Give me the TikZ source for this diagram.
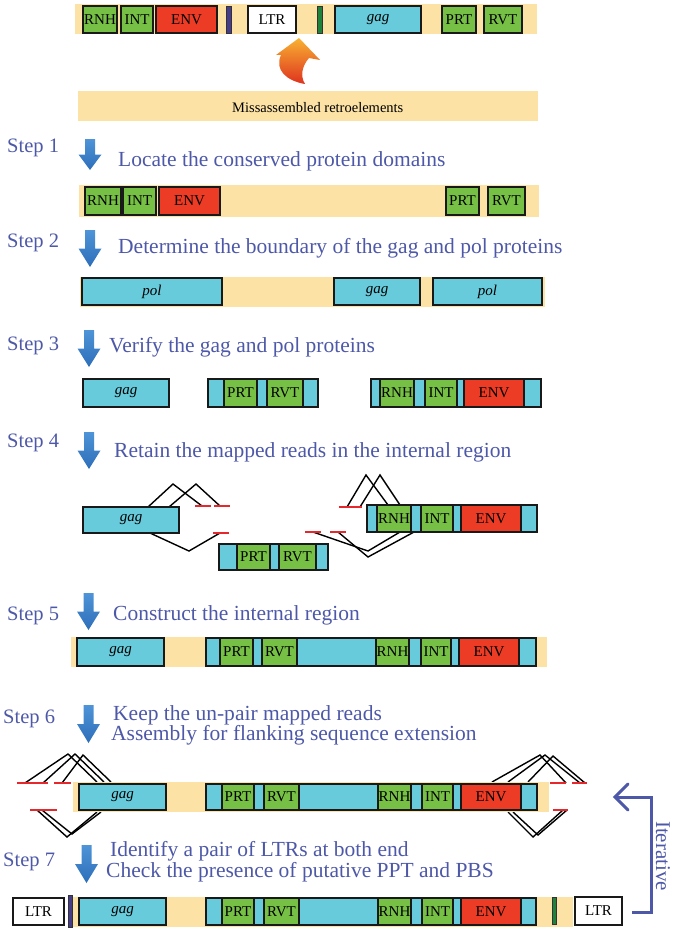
\documentclass[tikz,border=0pt]{standalone}
\usepackage{fontspec}
\setmainfont{Liberation Serif}
\definecolor{ylw}{RGB}{252,226,165}
\definecolor{cyn}{RGB}{104,203,219}
\definecolor{grn}{RGB}{119,192,70}
\definecolor{envred}{RGB}{236,60,38}
\definecolor{txtblue}{RGB}{77,88,168}
\definecolor{arrtop}{RGB}{78,148,215}
\definecolor{arrbot}{RGB}{45,110,185}
\definecolor{readred}{RGB}{230,40,45}
\definecolor{ltrpurple}{RGB}{70,60,140}
\definecolor{ltrgreen}{RGB}{30,130,60}
\definecolor{curvtop}{RGB}{248,178,50}
\definecolor{curvbot}{RGB}{222,50,30}
\newcommand\bx[7]{\node[#1,minimum width={(#4-#3)*1pt},minimum height={(#6-#5)*1pt},anchor=north west] (#2) at (#3,#5) {#7};}
\newcommand\stepArrow[3]{%
  \shade[top color=arrtop,bottom color=arrbot]
   ({#1-5},#2) -- ({#1+5},#2) -- ({#1+5},{#2+(#3-#2)*0.5}) -- ({#1+11.5},{#2+(#3-#2)*0.5})
   -- (#1,#3) -- ({#1-11.5},{#2+(#3-#2)*0.5}) -- ({#1-5},{#2+(#3-#2)*0.5}) -- cycle;}
\begin{document}
\begin{tikzpicture}[x=1pt,y=-1pt,
  ybar/.style={fill=ylw,draw=none,inner sep=0pt,outer sep=0pt},
  box/.style={draw=black!90,line width=1.8pt,inner sep=0pt,outer sep=0pt,font=\fontsize{15}{15}\selectfont},
  cy/.style={box,fill=cyn},
  gr/.style={box,fill=grn},
  rd/.style={box,fill=envred},
  wt/.style={box,fill=white},
  thinp/.style={draw=black!80,line width=0.8pt,fill=ltrpurple,inner sep=0pt,outer sep=0pt},
  thing/.style={draw=black!80,line width=0.8pt,fill=ltrgreen,inner sep=0pt,outer sep=0pt},
  steplbl/.style={anchor=base west,inner sep=0pt,text=txtblue,font=\fontsize{20.5}{22}\selectfont},
  steptxt/.style={anchor=base west,inner sep=0pt,text=txtblue,font=\fontsize{21.5}{24}\selectfont},
  rread/.style={draw=readred,line width=1.8pt},
  bread/.style={draw=black,line width=1.4pt,line join=miter}
]
\useasboundingbox (0,0) rectangle (675,931);

% ---------- top: missassembled ----------
\bx{ybar}{t-bar}{75}{537}{4}{34}{}
\bx{gr}{t-rnh}{83}{117}{6}{33}{RNH}
\bx{gr}{t-int}{121}{153}{6}{33}{INT}
\bx{rd}{t-env}{156}{217}{6}{33}{ENV}
\bx{thinp}{t-ppt}{226}{231}{6}{33}{}
\bx{wt}{t-ltr}{248}{296}{6}{33}{LTR}
\bx{thing}{t-pbs}{317}{322}{6}{33}{}
\bx{cy}{t-gag}{335}{421}{6}{33}{\textit{gag}}
\bx{gr}{t-prt}{442}{476}{6}{33}{PRT}
\bx{gr}{t-rvt}{484}{522}{6}{33}{RVT}
\shade[top color=curvtop,bottom color=curvbot]
  (305,84) .. controls (287,81) and (274,70) .. (281,55) -- (276,55) -- (299,38)
  -- (320,60) -- (309,58) .. controls (302,66) and (300,76) .. (305,84) -- cycle;
\bx{ybar}{miss}{78}{538}{91}{121}{}
\node[anchor=base west,inner sep=0pt,font=\fontsize{14.5}{16}\selectfont] (misslbl) at (232,113) {Missassembled retroelements};

% ---------- step 1 ----------
\node[steplbl] (s1) at (7,152) {Step 1};
\stepArrow{90}{139}{170}
\node[steptxt] (s1t) at (118,166) {Locate the conserved protein domains};
\bx{ybar}{s1-bar}{79}{539}{185}{217}{}
\bx{gr}{s1-rnh}{85}{121}{187}{215}{RNH}
\bx{gr}{s1-int}{123}{156}{187}{215}{INT}
\bx{rd}{s1-env}{159}{220}{187}{215}{ENV}
\bx{gr}{s1-prt}{446}{479}{187}{215}{PRT}
\bx{gr}{s1-rvt}{488}{525}{187}{215}{RVT}

% ---------- step 2 ----------
\node[steplbl] (s2) at (7,247) {Step 2};
\stepArrow{90}{230}{267}
\node[steptxt] (s2t) at (118,253) {Determine the boundary of the gag and pol proteins};
\bx{ybar}{s2-bar}{80}{545}{277}{307}{}
\bx{cy}{s2-pol1}{82}{222}{278}{305}{\textit{pol}}
\bx{cy}{s2-gag}{334}{420}{278}{305}{\textit{gag}}
\bx{cy}{s2-pol2}{433}{542}{278}{305}{\textit{pol}}

% ---------- step 3 ----------
\node[steplbl] (s3) at (7,350) {Step 3};
\stepArrow{89}{330}{367}
\node[steptxt] (s3t) at (109,352) {Verify the gag and pol proteins};
\bx{cy}{s3-gag}{83}{169}{379}{407}{\textit{gag}}
\bx{cy}{s3-g2}{208}{318}{379}{407}{}
\bx{gr}{s3-prt}{224}{257}{379}{407}{PRT}
\bx{gr}{s3-rvt}{267}{303}{379}{407}{RVT}
\bx{cy}{s3-g3}{371}{541}{379}{407}{}
\bx{gr}{s3-rnh}{380}{414}{379}{407}{RNH}
\bx{gr}{s3-int}{425}{457}{379}{407}{INT}
\bx{rd}{s3-env}{464}{524}{379}{407}{ENV}

% ---------- step 4 ----------
\node[steplbl] (s4) at (7,447) {Step 4};
\stepArrow{89}{432}{469}
\node[steptxt] (s4t) at (114,457) {Retain the mapped reads in the internal region};
\draw[bread] (148,507) -- (173,484) -- (202,506);
\draw[bread] (169,507) -- (196,484) -- (220,506);
\draw[bread] (150,533) -- (189,551) -- (220,533);
\draw[bread] (347,507) -- (366,475) -- (388,505);
\draw[bread] (360,507) -- (380,475) -- (400,505);
\draw[bread] (313,532) -- (368,551) -- (400,532);
\draw[bread] (338,532) -- (368,557) -- (414,532);
\draw[rread] (195,506) -- (211,506);
\draw[rread] (214,506) -- (230,506);
\draw[rread] (213,533) -- (229,533);
\draw[rread] (339,507) -- (362,507);
\draw[rread] (305,532) -- (321,532);
\draw[rread] (330,532) -- (346,532);
\bx{cy}{s4-gag}{83}{179}{507}{533}{\textit{gag}}
\bx{cy}{s4-g3}{367}{537}{505}{532}{}
\bx{gr}{s4-rnh}{377}{411}{505}{532}{RNH}
\bx{gr}{s4-int}{421}{453}{505}{532}{INT}
\bx{rd}{s4-env}{461}{521}{505}{532}{ENV}
\bx{cy}{s4-g2}{219}{328}{544}{570}{}
\bx{gr}{s4-prt}{237}{270}{544}{570}{PRT}
\bx{gr}{s4-rvt}{279}{316}{544}{570}{RVT}

% ---------- step 5 ----------
\node[steplbl] (s5) at (7,620) {Step 5};
\stepArrow{88.5}{593}{630}
\node[steptxt] (s5t) at (113,620) {Construct the internal region};
\bx{ybar}{s5-bar}{71}{547}{637}{667}{}
\bx{cy}{s5-gag}{77}{164}{638}{666}{\textit{gag}}
\bx{cy}{s5-grp}{206}{536}{638}{666}{}
\bx{gr}{s5-prt}{220}{253}{638}{666}{PRT}
\bx{gr}{s5-rvt}{262}{297}{638}{666}{RVT}
\bx{gr}{s5-rnh}{376}{409}{638}{666}{RNH}
\bx{gr}{s5-int}{421}{451}{638}{666}{INT}
\bx{rd}{s5-env}{459}{519}{638}{666}{ENV}

% ---------- step 6 ----------
\node[steplbl] (s6) at (3,723) {Step 6};
\stepArrow{88.5}{705}{743}
\node[steptxt] (s6t1) at (113,720) {Keep the un-pair mapped reads};
\node[steptxt] (s6t2) at (111,740.5) {Assembly for flanking sequence extension};
\draw[bread] (25,783) -- (68,754) -- (97,782);
\draw[bread] (43,783) -- (75,754) -- (104,782);
\draw[bread] (62,783) -- (83,755) -- (111,782);
\draw[bread] (37,810) -- (67,837) -- (97,812);
\draw[bread] (42,810) -- (72,834) -- (101,812);
\draw[bread] (492,782) -- (540,755) -- (566,783);
\draw[bread] (508,782) -- (545,755) -- (580,783);
\draw[bread] (528,782) -- (553,756) -- (585,783);
\draw[bread] (508,812) -- (533,837) -- (563,810);
\draw[bread] (513,812) -- (538,835) -- (567,810);
\draw[rread] (17,783) -- (48,783);
\draw[rread] (54,783) -- (71,783);
\draw[rread] (30,810) -- (57,810);
\draw[rread] (550,783) -- (566,783);
\draw[rread] (572,783) -- (587,783);
\draw[rread] (553,810) -- (568,810);
\bx{ybar}{s6-bar}{73}{549}{782}{812}{}
\bx{cy}{s6-gag}{79}{166}{784}{810}{\textit{gag}}
\bx{cy}{s6-grp}{206}{537}{784}{810}{}
\bx{gr}{s6-prt}{222}{254}{784}{810}{PRT}
\bx{gr}{s6-rvt}{264}{299}{784}{810}{RVT}
\bx{gr}{s6-rnh}{378}{411}{784}{810}{RNH}
\bx{gr}{s6-int}{422}{453}{784}{810}{INT}
\bx{rd}{s6-env}{461}{521}{784}{810}{ENV}

% ---------- step 7 ----------
\node[steplbl] (s7) at (3,866) {Step 7};
\stepArrow{86.5}{845}{883}
\node[steptxt] (s7t1) at (110,856) {Identify a pair of LTRs at both end};
\node[steptxt] (s7t2) at (106,877) {Check the presence of putative PPT and PBS};
\bx{ybar}{s7-bar}{69}{573}{897}{927}{}
\bx{wt}{s7-ltr1}{13}{64}{898}{925}{LTR}
\bx{thinp}{s7-ppt}{68}{72}{895}{927}{}
\bx{cy}{s7-gag}{79}{166}{898}{925}{\textit{gag}}
\bx{cy}{s7-grp}{206}{536}{898}{925}{}
\bx{gr}{s7-prt}{222}{254}{898}{925}{PRT}
\bx{gr}{s7-rvt}{264}{299}{898}{925}{RVT}
\bx{gr}{s7-rnh}{378}{411}{898}{925}{RNH}
\bx{gr}{s7-int}{422}{453}{898}{925}{INT}
\bx{rd}{s7-env}{461}{521}{898}{925}{ENV}
\bx{thing}{s7-pbs}{552}{556}{897}{924}{}
\bx{wt}{s7-ltr2}{575}{622}{897}{925}{LTR}

% ---------- iterative ----------
\coordinate (itA) at (632,912);
\coordinate (itB) at (651,912);
\coordinate (itC) at (651,797);
\coordinate (itD) at (615,797);
\draw[txtblue,line width=3pt] (itA) -- (itB) -- (itC) -- (itD);
\draw[txtblue,line width=3pt,line cap=round] (628,784) -- (itD) -- (628,810);
\node[rotate=-90,inner sep=0pt,text=txtblue,font=\fontsize{21}{22}\selectfont] (iter) at (663,856) {Iterative};
\end{tikzpicture}
\end{document}
